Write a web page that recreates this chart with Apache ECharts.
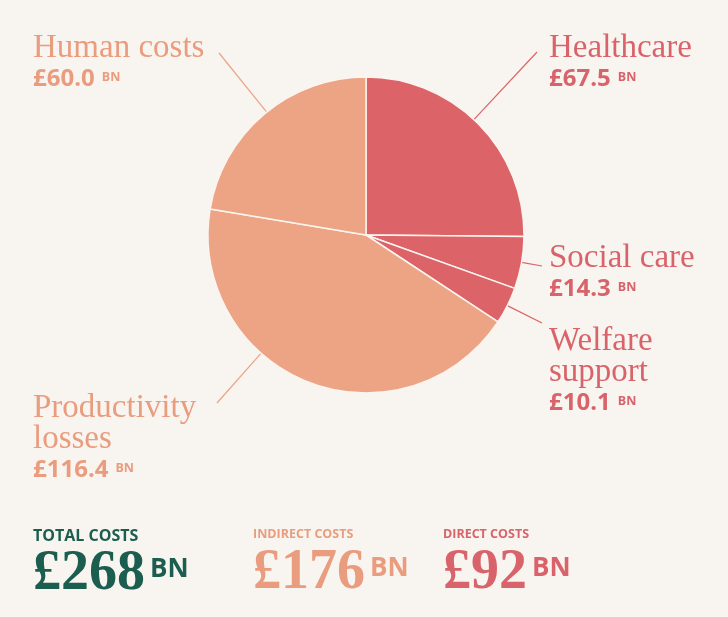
<!DOCTYPE html>
<html>
<head>
<meta charset="utf-8">
<script src="https://cdn.jsdelivr.net/npm/echarts@6/dist/echarts.min.js"></script>
<style>
    html, body { margin: 0; background: #f8f4ef; }
    #main { width: 728px; height: 617px; }
</style>
</head>
<body>
<div id="main"></div>
<script>
const names = ['Healthcare', 'Social care', 'Welfare support', 'Productivity losses', 'Human costs'];
const values = [67.5, 14.3, 10.1, 116.4, 60.0];
const groups = ['direct', 'direct', 'direct', 'indirect', 'indirect'];
const unit = 'BN';

const summaryKeys = ['total', 'indirect', 'direct'];
const summaryLabels = ['TOTAL COSTS', 'INDIRECT COSTS', 'DIRECT COSTS'];

// styling / layout
const sliceColors = { direct: '#dc6468', indirect: '#eca485' };
const textColors = { direct: '#d9636a', indirect: '#e99c7e', total: '#1b5d4f' };
const center = [366, 235];
const radius = 158;
// top-left of each label and the end of its leader line
const labelPos = [[549, 33], [549, 243], [549, 326], [33, 393], [33, 33]];
const lineEnds = [[537, 52], [542, 266], [542, 323], [217, 403], [219, 53]];
const summaryX = [33, 253, 443];

const chartDom = document.getElementById('main');
const myChart = echarts.init(chartDom);

const sum = function (key) {
    return values.reduce(function (s, v, i) {
        return key === 'total' || groups[i] === key ? s + v : s;
    }, 0);
};

const option = {
    backgroundColor: '#f8f4ef',
    animation: false,
    graphic: summaryKeys.map(function (key, i) {
        const c = textColors[key];
        return {
            type: 'text',
            left: summaryX[i],
            top: 528,
            silent: true,
            style: {
                text: '{a|' + summaryLabels[i] + '}\n{b|£' + Math.round(sum(key)) + '}{c|' + unit + '}',
                rich: {
                    a: { fontFamily: 'Open Sans', fontWeight: 'bold', fontSize: i === 0 ? 16 : 12.5, lineHeight: 22, fill: c },
                    b: { fontFamily: 'Liberation Serif', fontWeight: 'bold', fontSize: 56, lineHeight: 56, fill: c },
                    c: { fontFamily: 'Open Sans', fontWeight: 'bold', fontSize: 26, lineHeight: 26, fill: c, padding: [0, 0, 10, 5] }
                }
            }
        };
    }),
    series: [
        {
            type: 'pie',
            center: center,
            radius: radius,
            silent: true,
            itemStyle: {
                borderColor: '#fbf4ef',
                borderWidth: 1.5
            },
            label: {
                show: true,
                position: 'outside',
                formatter: function (p) {
                    const lines = p.name.length > 12 ? p.name.split(' ') : [p.name];
                    return lines.map(function (l) { return '{n|' + l + '}'; }).join('\n') +
                        '\n{v|£' + p.value.toFixed(1) + '}{u|' + unit + '}';
                },
                rich: {
                    n: { fontFamily: 'Liberation Serif', fontSize: 33, lineHeight: 31 },
                    v: { fontFamily: 'Open Sans', fontWeight: 'bold', fontSize: 24, lineHeight: 31 },
                    u: { fontFamily: 'Open Sans', fontWeight: 'bold', fontSize: 12.5, lineHeight: 12, padding: [0, 0, 5, 7] }
                }
            },
            labelLine: {
                show: true,
                length: 20,
                length2: 0,
                lineStyle: { width: 1.2 }
            },
            labelLayout: function (params) {
                const i = params.dataIndex;
                const e = lineEnds[i];
                const dx = e[0] - center[0];
                const dy = e[1] - center[1];
                const d = Math.hypot(dx, dy);
                const s = [center[0] + dx / d * radius, center[1] + dy / d * radius];
                return {
                    x: labelPos[i][0],
                    y: labelPos[i][1],
                    align: 'left',
                    verticalAlign: 'top',
                    labelLinePoints: [s, e, e]
                };
            },
            data: names.map(function (n, i) {
                return {
                    name: n,
                    value: values[i],
                    itemStyle: { color: sliceColors[groups[i]] },
                    label: { color: textColors[groups[i]] }
                };
            })
        }
    ]
};

option && myChart.setOption(option);
</script>
</body>
</html>
